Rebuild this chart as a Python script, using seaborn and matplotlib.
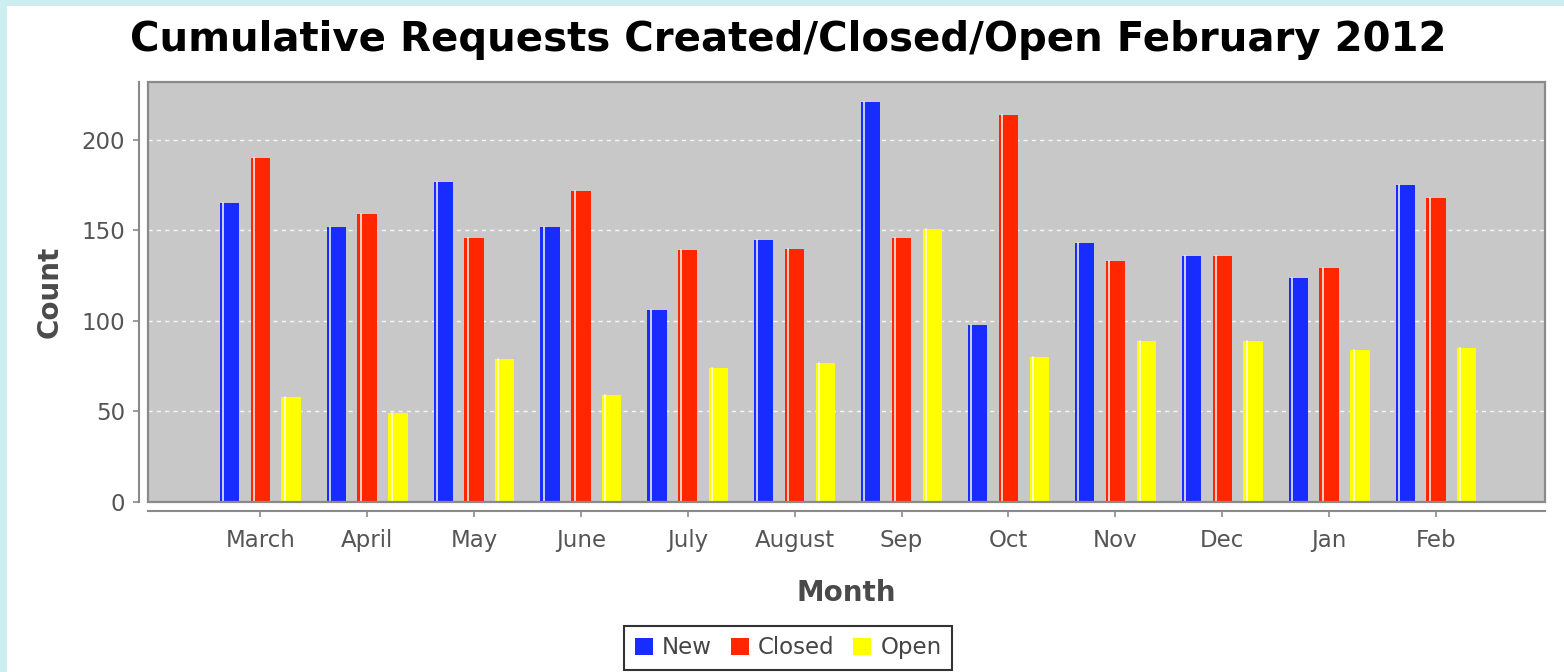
import pandas as pd
import matplotlib.pyplot as plt
import seaborn as sns
from matplotlib.patches import Rectangle

months = ['March', 'April', 'May', 'June', 'July', 'August', 'Sep', 'Oct', 'Nov', 'Dec', 'Jan', 'Feb']
new = [165, 152, 177, 152, 106, 145, 221, 98, 143, 136, 124, 175]
closed = [190, 159, 146, 172, 139, 140, 146, 214, 133, 136, 129, 168]
open_ = [58, 49, 79, 59, 74, 77, 151, 80, 89, 89, 84, 85]
series = ['New', 'Closed', 'Open']
colors = ['#182cff', '#ff2600', '#ffff00']

df = pd.DataFrame({'Month': months * 3,
                   'Count': new + closed + open_,
                   'Type': [s for s in series for _ in months]})

sns.set_style('white')
plt.rcParams['font.family'] = ['DejaVu Sans']

fig = plt.figure(figsize=(15.64, 6.72), dpi=100)
fig.patch.set_facecolor('#cdeef0')
fig.add_artist(Rectangle((7 / 1564, 0), 1, 1 - 6 / 672, transform=fig.transFigure,
                         facecolor='white', edgecolor='none', zorder=-1))

ax = fig.add_axes([148 / 1564, 1 - 502 / 672, (1545 - 148) / 1564, (502 - 82) / 672])
ax.set_facecolor('#c8c8c8')

sns.barplot(data=df, x='Month', y='Count', hue='Type', order=months, hue_order=series,
            palette=colors, saturation=1, width=0.865, gap=0.375, linewidth=0, ax=ax)

# little white highlight line near the left edge of each bar
for p in ax.patches:
    if p.get_height() > 0:
        x = p.get_x() + p.get_width() * 0.17
        ax.plot([x, x], [0, p.get_height()], color='white', lw=1.2, alpha=0.9, zorder=3)

ax.set_xlim(-1.05, 12.02)
ax.set_ylim(0, 232)
ax.set_yticks([0, 50, 100, 150, 200])
ax.yaxis.grid(True, color='white', linestyle=(0, (3, 3)), lw=1, alpha=0.85)
ax.set_axisbelow(True)

for s in ['top', 'right']:
    ax.spines[s].set_visible(False)
for s in ['left', 'bottom']:
    ax.spines[s].set_position(('outward', 6.5))
    ax.spines[s].set_color('#8a8a8a')
    ax.spines[s].set_linewidth(1.5)
ax.add_patch(Rectangle((0, 0), 1, 1, transform=ax.transAxes, fill=False,
                       edgecolor='#8a8a8a', lw=1.6, clip_on=False, zorder=5))

ax.tick_params(axis='both', colors='#8a8a8a', labelcolor='#555555', labelsize=16.5,
               length=4, width=1.2, left=True, bottom=True)
ax.tick_params(axis='x', pad=9)
ax.tick_params(axis='y', pad=6)

ax.set_xlabel('Month', fontsize=20, fontweight='bold', color='#4a4a4a')
ax.set_ylabel('Count', fontsize=20, fontweight='bold', color='#4a4a4a')
ax.xaxis.label.set_va('center')
ax.xaxis.set_label_coords(0.4996, -0.217)
ax.yaxis.label.set_va('center')
ax.yaxis.set_label_coords(-0.0702, 0.5)

handles, labels = ax.get_legend_handles_labels()
ax.get_legend().remove()
leg = fig.legend(handles, labels, loc='upper center', bbox_to_anchor=(0.504, 1 - 626 / 672),
                 ncol=3, fontsize=16.5, frameon=True, fancybox=False, edgecolor='black',
                 handlelength=0.8, handleheight=0.8, handletextpad=0.4, columnspacing=0.8,
                 borderpad=0.45, borderaxespad=0, labelcolor='#444444')
leg.get_frame().set_linewidth(1.5)

fig.text(0.504, 1 - 40 / 672, 'Cumulative Requests Created/Closed/Open February 2012',
         ha='center', va='center', fontsize=29, fontweight='bold', color='black')

fig.savefig('out.png', dpi=100)
